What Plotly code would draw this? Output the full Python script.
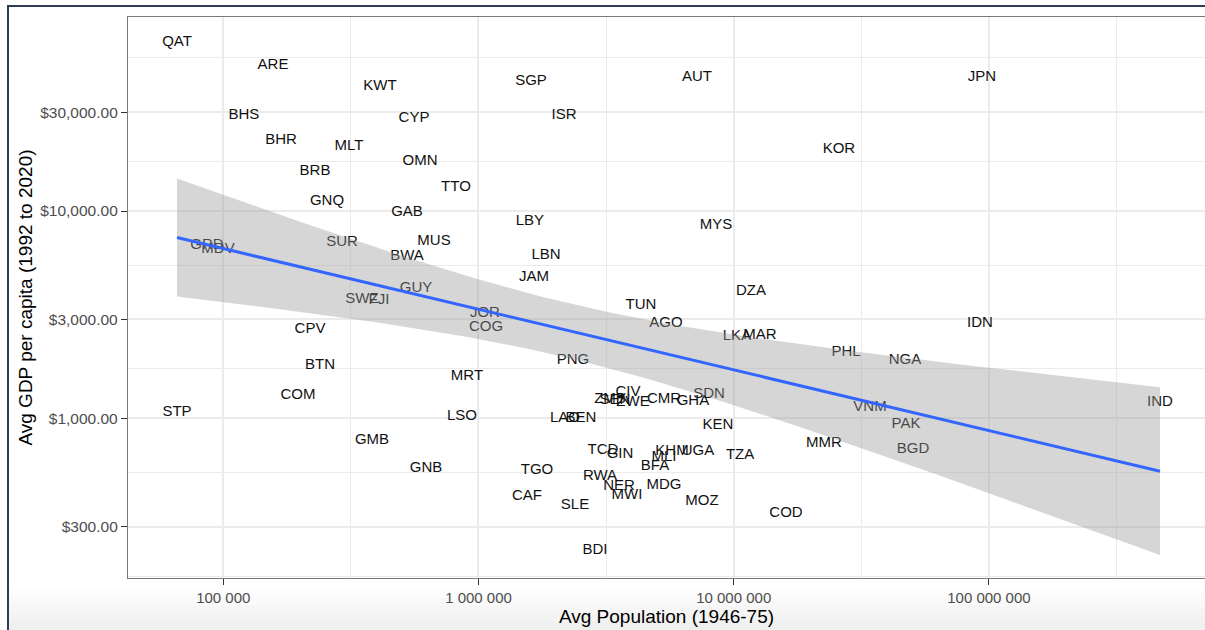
import numpy as np
import plotly.graph_objects as go

# ---- data ----
iso = ["QAT", "ARE", "KWT", "BHS", "CYP", "BHR", "MLT", "BRB", "OMN", "TTO",
       "GNQ", "GAB", "SGP", "AUT", "ISR", "KOR", "JPN", "LBY", "MYS", "LBN",
       "JAM", "DZA", "TUN", "AGO", "LKA", "MAR", "PHL", "PNG", "NGA", "IDN",
       "SUR", "MUS", "BWA", "GRD", "MDV", "GUY", "SWZ", "FJI", "JOR", "COG",
       "CPV", "BTN", "MRT", "COM", "STP", "LSO", "GMB", "GNB", "CIV", "ZMB",
       "SEN", "ZWE", "CMR", "GHA", "SDN", "LAO", "BEN", "KEN", "VNM", "MMR",
       "TCD", "GIN", "KHM", "MLI", "UGA", "TZA", "BFA", "TGO", "RWA", "NER",
       "MDG", "MWI", "CAF", "SLE", "MOZ", "COD", "BDI", "PAK", "BGD", "IND"]

avg_population = [65870, 156600, 411100, 120500, 558800, 168300, 310900, 228800, 590000, 816200,
                  254900, 524600, 1606000, 7180000, 2163000, 25850000, 93970000, 1591000, 8523000, 1839000,
                  1650000, 11690000, 4333000, 5429000, 10300000, 12680000, 27540000, 2346000, 46920000, 92280000,
                  291800, 669300, 524600, 86340, 95330, 568900, 349600, 407500, 1060000, 1070000,
                  218700, 239300, 901400, 196200, 65870, 861600, 382500, 622900, 3853000, 3276000,
                  3426000, 4031000, 5332000, 6925000, 8002000, 2183000, 2521000, 8677000, 34210000, 22590000,
                  3075000, 3585000, 5731000, 5332000, 7245000, 10590000, 4917000, 1695000, 2993000, 3552000,
                  5332000, 3818000, 1549000, 2388000, 7512000, 16030000, 2860000, 47340000, 50410000, 468300000]

avg_gdp_pc = [64850, 50600, 39770, 28820, 27880, 21830, 20430, 15480, 17290, 13010,
              11090, 9836, 42050, 44160, 29040, 19840, 44160, 8880, 8531, 6134,
              4788, 4081, 3521, 2873, 2495, 2514, 2089, 1897, 1897, 2873,
              7033, 7111, 6066, 6855, 6535, 4238, 3750, 3692, 3210, 2748,
              2688, 1807, 1600, 1295, 1069, 1026, 786, 574, 1329, 1239,
              1225, 1198, 1235, 1212, 1306, 1000, 1000, 928, 1130, 758,
              703, 673, 696, 649, 696, 665, 584, 563, 527, 468,
              475, 425, 419, 382, 399, 348, 232, 939, 711, 1189]

x_tickvals = [1e5, 1e6, 1e7, 1e8]
x_ticktext = ["100 000", "1 000 000", "10 000 000", "100 000 000"]
y_tickvals = [300, 1000, 3000, 10000, 30000]
y_ticktext = ["$300.00", "$1,000.00", "$3,000.00", "$10,000.00", "$30,000.00"]

x_title = "Avg Population (1946-75)"
y_title = "Avg GDP per capita (1992 to 2020)"

# ---- linear fit in log-log space with 95% confidence band (geom_smooth lm) ----
lx = np.log10(np.array(avg_population, dtype=float))
ly = np.log10(np.array(avg_gdp_pc, dtype=float))
n = len(lx)
slope, intercept = np.polyfit(lx, ly, 1)
resid = ly - (intercept + slope * lx)
s = np.sqrt(np.sum(resid ** 2) / (n - 2))
xbar = lx.mean()
sxx = np.sum((lx - xbar) ** 2)
xs = np.linspace(lx.min(), lx.max(), 80)
fit = intercept + slope * xs
se = s * np.sqrt(1.0 / n + (xs - xbar) ** 2 / sxx)
tq = 1.9908
upper = fit + tq * se
lower = fit - tq * se

FONT = "Liberation Sans, Arial, Helvetica, sans-serif"

fig = go.Figure()

# labels (drawn first so the ribbon overlays them, like ggplot)
fig.add_trace(go.Scatter(
    x=avg_population, y=avg_gdp_pc, mode="text", text=iso,
    textposition="middle center",
    textfont=dict(family=FONT, size=15, color="#111111"),
    hoverinfo="skip", showlegend=False,
))

# confidence ribbon
fig.add_trace(go.Scatter(
    x=np.concatenate([10 ** xs, (10 ** xs)[::-1]]),
    y=np.concatenate([10 ** upper, (10 ** lower)[::-1]]),
    mode="lines", fill="toself", fillcolor="rgba(153,153,153,0.4)",
    line=dict(width=0), hoverinfo="skip", showlegend=False,
))

# fitted line
fig.add_trace(go.Scatter(
    x=10 ** xs, y=10 ** fit, mode="lines",
    line=dict(color="#3366FF", width=3),
    hoverinfo="skip", showlegend=False,
))

W, H = 1205, 630
L, R, T, B = 128, 0, 17, 52
pw = W - L - R
ph = H - T - B

def px(xf):
    return (xf - L) / pw

def py(yf):
    return (H - B - yf) / ph

shapes = [
    # outer dark frame lines (screenshot edge)
    dict(type="line", xref="paper", yref="paper", x0=px(8), x1=px(8), y0=py(5), y1=py(H),
         line=dict(color="#2c3e50", width=2)),
    dict(type="line", xref="paper", yref="paper", x0=px(7), x1=px(W), y0=py(6), y1=py(6),
         line=dict(color="#2c3e50", width=2)),
]
# soft shadow at the bottom
for y0 in [590, 598, 606, 614, 622]:
    shapes.append(dict(type="rect", xref="paper", yref="paper", x0=px(9), x1=px(W),
                       y0=py(y0), y1=py(H), line=dict(width=0),
                       fillcolor="rgba(0,0,0,0.012)", layer="below"))

fig.update_layout(
    width=W, height=H,
    margin=dict(l=L, r=R, t=T, b=B, autoexpand=False),
    paper_bgcolor="white", plot_bgcolor="white",
    font=dict(family=FONT, color="#000000"),
    shapes=shapes,
    showlegend=False,
)

fig.update_xaxes(
    type="log", range=[4.6266, 8.8468],
    tickvals=x_tickvals, ticktext=x_ticktext,
    tickfont=dict(family=FONT, size=15, color="#4d4d4d"),
    ticks="outside", ticklen=6, tickwidth=1.2, tickcolor="#333333",
    showgrid=True, gridcolor="#ebebeb", gridwidth=2,
    minor=dict(tickvals=[10 ** 4.5, 10 ** 5.5, 10 ** 6.5, 10 ** 7.5, 10 ** 8.5],
               showgrid=True, gridcolor="#ebebeb", gridwidth=1, ticks=""),
    showline=True, linecolor="#7a7a7a", linewidth=1.3, mirror=True,
    zeroline=False,
    title=dict(text=x_title, font=dict(family=FONT, size=19, color="#000000"), standoff=0),
)

fig.update_yaxes(
    type="log", range=[2.2296, 4.9359],
    tickvals=y_tickvals, ticktext=y_ticktext,
    tickfont=dict(family=FONT, size=15.5, color="#4d4d4d"),
    ticks="outside", ticklen=6, tickwidth=1.2, tickcolor="#333333",
    showgrid=True, gridcolor="#ebebeb", gridwidth=2,
    minor=dict(tickvals=[173.2, 547.7, 1732, 5477, 17321, 54772],
               showgrid=True, gridcolor="#ebebeb", gridwidth=1, ticks=""),
    showline=True, linecolor="#7a7a7a", linewidth=1.3, mirror=False,
    zeroline=False,
    title=dict(text=y_title, font=dict(family=FONT, size=19, color="#000000"), standoff=2),
)

fig.write_html(
    "out.html",
    config={"displayModeBar": False},
    post_script="document.documentElement.style.overflow='hidden';"
                "document.body.style.margin='0';document.body.style.overflow='hidden';",
)
